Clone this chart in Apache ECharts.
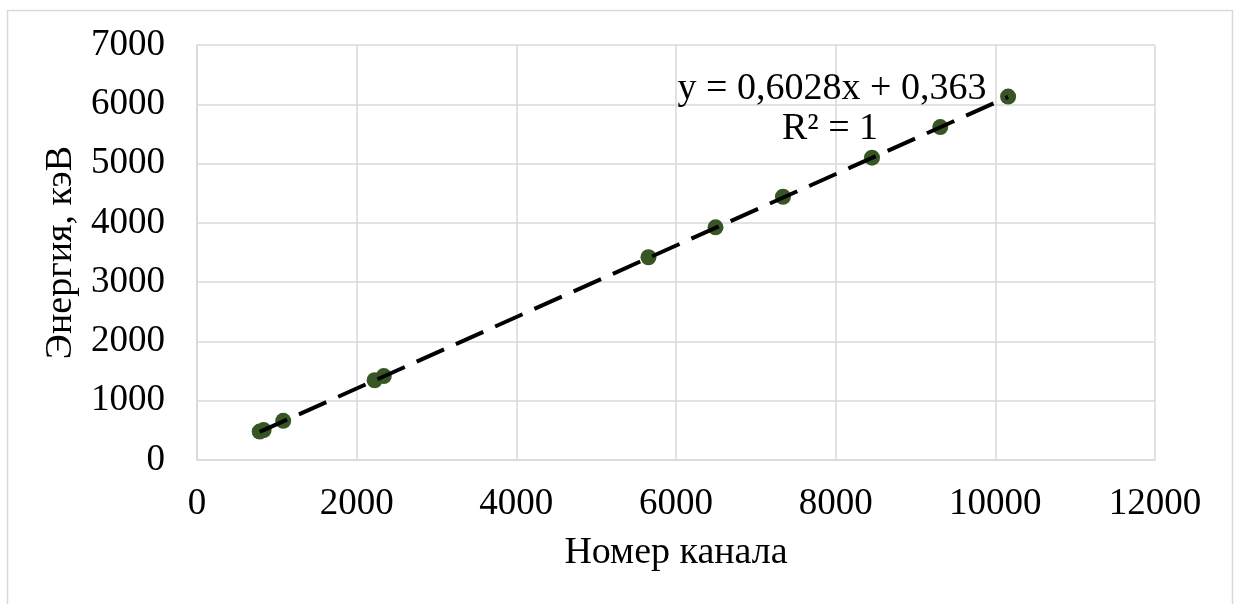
<!DOCTYPE html>
<html>
<head>
<meta charset="utf-8">
<script src="https://cdn.jsdelivr.net/npm/echarts@6/dist/echarts.min.js"></script>
<style>
  html, body { margin: 0; padding: 0; background: #ffffff; }
  #chart { width: 1237px; height: 604px; }
</style>
</head>
<body>
<div id="chart"></div>
<script>
// Calibration points: channel number vs. energy (keV)
const channels = [785, 835, 1080, 2225, 2340, 5655, 6495, 7340, 8455, 9310, 10160];
const energies = [480, 505, 660, 1345, 1415, 3420, 3925, 4440, 5100, 5615, 6130];

// Linear fit coefficients shown in the equation label
const fitSlope = 0.6028;
const fitIntercept = 0.363;
const fitLabel = ['y = 0,6028x + 0,363', 'R² = 1'];

// Axis settings
const xTicks = { min: 0, max: 12000, interval: 2000 };
const yTicks = { min: 0, max: 7000, interval: 1000 };
const xTitle = 'Номер канала';
const yTitle = 'Энергия, кэВ';

const FONT = '"Liberation Serif", "Times New Roman", serif';
const GRID_COLOR = '#d9d9d9';
const TICK_SIZE = 37;
const TITLE_SIZE = 38;

const points = channels.map((c, i) => [c, energies[i]]);
const xFirst = Math.min(...channels);
const xLast = Math.max(...channels);
const fitLine = [
  [xFirst, fitSlope * xFirst + fitIntercept],
  [xLast, fitSlope * xLast + fitIntercept]
];

const plain = v => String(v);

const chart = echarts.init(document.getElementById('chart'), null, { renderer: 'canvas' });

chart.setOption({
  backgroundColor: '#ffffff',
  animation: false,
  grid: { left: 197, right: 82, top: 45, bottom: 144, containLabel: false },
  xAxis: {
    type: 'value',
    min: xTicks.min, max: xTicks.max, interval: xTicks.interval,
    name: xTitle,
    nameLocation: 'middle',
    nameGap: 74,
    nameTextStyle: { fontFamily: FONT, fontSize: TITLE_SIZE, color: '#000' },
    axisLine: { show: true, lineStyle: { color: GRID_COLOR, width: 1.5 } },
    axisTick: { show: false },
    axisLabel: { fontFamily: FONT, fontSize: TICK_SIZE, color: '#000', margin: 26, formatter: plain },
    splitLine: { show: true, lineStyle: { color: GRID_COLOR, width: 1.5 } }
  },
  yAxis: {
    type: 'value',
    min: yTicks.min, max: yTicks.max, interval: yTicks.interval,
    name: yTitle,
    nameLocation: 'middle',
    nameGap: 113,
    nameRotate: 90,
    nameTextStyle: { fontFamily: FONT, fontSize: TITLE_SIZE, color: '#000' },
    axisLine: { show: true, lineStyle: { color: GRID_COLOR, width: 1.5 } },
    axisTick: { show: false },
    axisLabel: { fontFamily: FONT, fontSize: TICK_SIZE, color: '#000', margin: 32, formatter: plain },
    splitLine: { show: true, lineStyle: { color: GRID_COLOR, width: 1.5 } }
  },
  graphic: [
    {
      type: 'rect',
      silent: true,
      shape: { x: 7.5, y: 10.5, width: 1225, height: 620 },
      style: { fill: 'none', stroke: GRID_COLOR, lineWidth: 1.5 },
      z: -10
    },
    {
      type: 'text',
      x: 832, y: 89,
      style: {
        text: fitLabel[0],
        fontFamily: FONT, fontSize: TITLE_SIZE, fill: '#000',
        align: 'center', verticalAlign: 'middle'
      },
      z: 10
    },
    {
      type: 'text',
      x: 830, y: 129,
      style: {
        text: fitLabel[1],
        fontFamily: FONT, fontSize: TITLE_SIZE, fill: '#000',
        align: 'center', verticalAlign: 'middle'
      },
      z: 10
    }
  ],
  series: [
    {
      name: 'Калибровка',
      type: 'scatter',
      data: points,
      symbol: 'circle',
      symbolSize: 16,
      itemStyle: { color: '#375623', opacity: 1 },
      z: 2
    },
    {
      name: 'Линейная аппроксимация',
      type: 'line',
      data: fitLine,
      showSymbol: false,
      symbol: 'none',
      lineStyle: { color: '#000', width: 4, type: [30, 13], cap: 'butt' },
      z: 3
    }
  ]
});
</script>
</body>
</html>
